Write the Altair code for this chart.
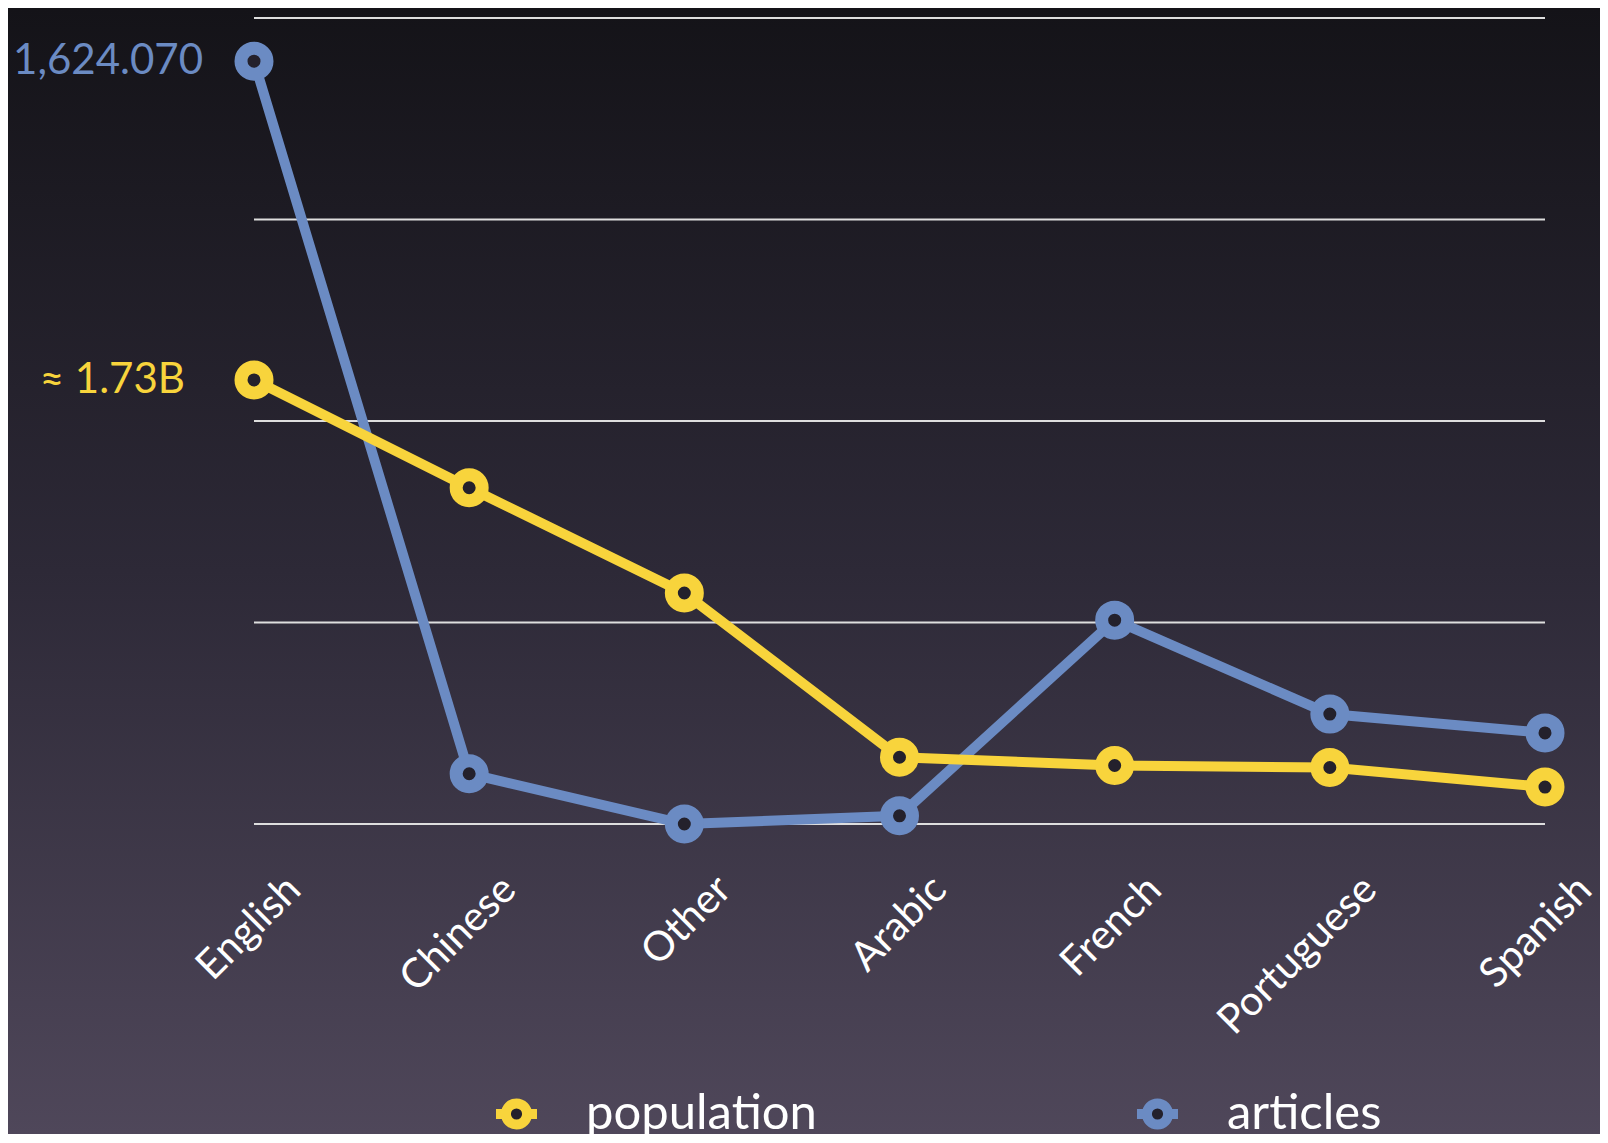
import altair as alt
import pandas as pd

# ---- data ----
languages = ["English", "Chinese", "Other", "Arabic", "French", "Portuguese", "Spanish"]
population = [1.73e9, 1.31e9, 0.90e9, 0.26e9, 0.228e9, 0.22e9, 0.144e9]
articles = [1624070, 107000, 0, 17500, 434000, 234000, 194000]
series_names = ["population", "articles"]
end_labels = {"population": "≈ 1.73B", "articles": "1,624.070"}
grid_levels = [0, 429000, 858000, 1287000, 1716000]

YELLOW = "#f8d43c"
BLUE = "#6b8bc3"
HOLE = "#24212c"
FONT = "Lato"

W, H = 1291, 806
PAD = {"left": 246, "top": 10, "right": 55, "bottom": 310}

# ring with short stubs on both sides, as in the legend of the reference
LEGEND_SYMBOL = (
    "M-1.55,0L-0.8,0M0.8,0L1.55,0"
    "M0.8,0A0.8,0.8 0 1,1 -0.8,0A0.8,0.8 0 1,1 0.8,0Z"
)


def frame(values, name):
    return pd.DataFrame({
        "language": languages,
        "value": values,
        "series": name,
        "label": [end_labels[name] if l == "English" else "" for l in languages],
    })


pop_df = frame(population, "population")
art_df = frame(articles, "articles")
grid_df = pd.DataFrame({"value": grid_levels})

x = alt.X(
    "language:N",
    sort=languages,
    scale=alt.Scale(type="point", padding=0),
    axis=alt.Axis(
        title=None, labelAngle=-45, labelAlign="right", labelBaseline="middle",
        labelOffset=40, labelPadding=59, ticks=False, domain=False, grid=False,
        labelFontSize=41, labelColor="white", labelFont=FONT, labelOverlap=False,
        labelBound=False, labelLimit=400, zindex=2,
    ),
)

color = alt.Color(
    "series:N",
    scale=alt.Scale(domain=series_names, range=[YELLOW, BLUE]),
    legend=alt.Legend(
        title=None, orient="none", legendX=238, legendY=1071,
        direction="horizontal", columns=2, columnPadding=299,
        symbolType=LEGEND_SYMBOL, symbolSize=700, symbolStrokeWidth=10,
        symbolFillColor="#3f394b", labelFontSize=49, labelColor="white",
        labelFont=FONT, labelOffset=45, labelLimit=500, padding=0,
        zindex=2,
    ),
)

y_art = alt.Y("value:Q", scale=alt.Scale(domain=[0, 1716000]), axis=None)
y_pop = alt.Y("value:Q", scale=alt.Scale(domain=[0, 3.14e9]), axis=None)

gradient = alt.LinearGradient(
    gradient="linear",
    stops=[
        alt.GradientStop(offset=0, color="#141318"),
        alt.GradientStop(offset=0.5, color="#2d2937"),
        alt.GradientStop(offset=1, color="#4f475a"),
    ],
    x1=0, x2=0, y1=0, y2=1,
)

bg = alt.Chart(alt.Data(values=[{}])).mark_rect(fill=gradient).encode(
    x=alt.value(-PAD["left"]), x2=alt.value(W + PAD["right"]),
    y=alt.value(-PAD["top"]), y2=alt.value(H + PAD["bottom"]),
)

grid = alt.Chart(grid_df).mark_rule(color="#dedede", strokeWidth=2).encode(y=y_art)


def series_layer(df, y, col, label_dx, draw_grid=False):
    base = alt.Chart(df)
    line = base.mark_line(strokeWidth=10).encode(x=x, y=y, color=color)
    pts = base.mark_point(
        shape="circle", filled=False, fill=HOLE, fillOpacity=1, opacity=1,
        size=676, strokeWidth=13,
    ).encode(x=x, y=y, color=color)
    txt = base.transform_filter("datum.label != ''").mark_text(
        align="right", baseline="middle", dx=label_dx, fontSize=42,
        font=FONT, color=col,
    ).encode(x=x, y=y, text="label:N")
    parts = [grid] if draw_grid else []
    return alt.layer(*parts, line, pts, txt)


art_layer = series_layer(art_df, y_art, BLUE, -51, draw_grid=True)
pop_layer = series_layer(pop_df, y_pop, YELLOW, -69)

chart = (
    alt.layer(bg, art_layer, pop_layer)
    .resolve_scale(y="independent")
    .properties(
        width=W, height=H, padding=PAD,
        autosize=alt.AutoSizeParams(type="none"),
        background="#2c2836",
    )
    .configure_view(stroke=None)
)

chart.save("out.html", embed_options={"renderer": "svg", "actions": False})
